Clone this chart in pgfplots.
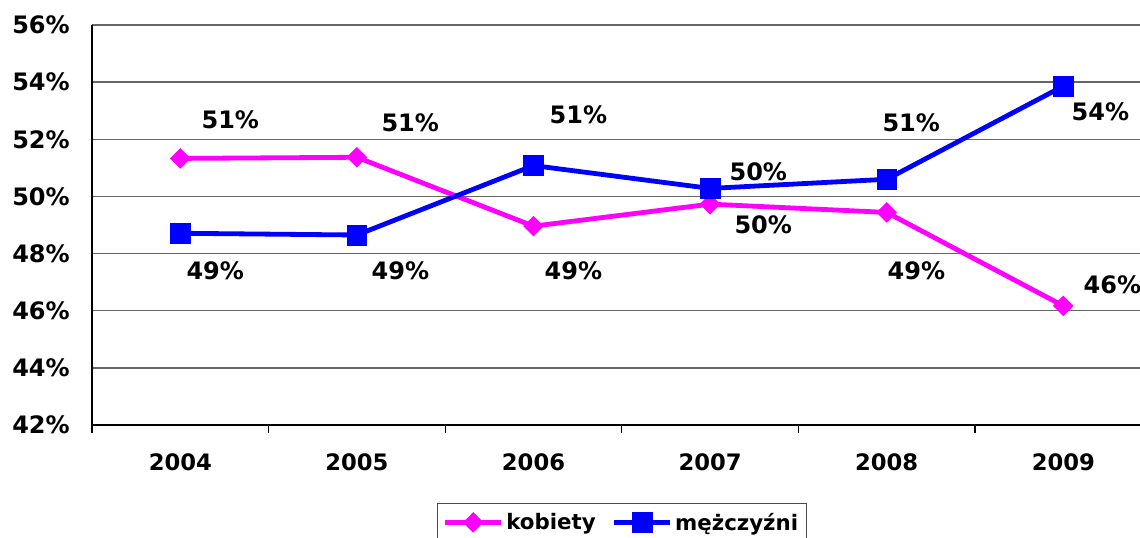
\documentclass[border=0pt]{standalone}
\usepackage{pgfplots}
\pgfplotsset{compat=1.18}
\usepackage{fontspec}
\setmainfont{DejaVu Sans}
\definecolor{kcol}{RGB}{255,0,255}
\definecolor{mcol}{RGB}{0,0,255}
\begin{document}
\begin{tikzpicture}[x=1pt,y=1pt]
\path[use as bounding box] (0,0) rectangle (855,403.5);
\begin{axis}[
  at={(69pt,84.75pt)}, anchor=south west,
  scale only axis, width=794.7pt, height=300pt,
  xmin=-0.5, xmax=5.5, ymin=42, ymax=56,
  axis lines=left,
  axis line style={-, black, line width=0.9pt},
  ytick={42,44,...,56},
  yticklabels={42\%,44\%,46\%,48\%,50\%,52\%,54\%,56\%},
  xtick={0,...,5},
  xticklabels={2004,2005,2006,2007,2008,2009},
  minor xtick={-0.5,0.5,...,5.5},
  major tick length=0pt,
  minor tick length=6pt,
  tick align=outside,
  tick style={black, line width=0.8pt},
  ymajorgrids,
  grid style={black!60, line width=1pt},
  tick label style={font=\bfseries\fontsize{17}{20}\selectfont, inner sep=0pt},
  yticklabel style={anchor=east, xshift=-16.5pt, font=\bfseries\fontsize{18}{20}\selectfont},
  xticklabel style={anchor=north, yshift=-21pt},
  clip=false,
  legend style={at={(0.5,-0.195)}, anchor=north, legend columns=2,
    draw=black!70, line width=0.8pt,
    font=\bfseries\fontsize{16}{18}\selectfont,
    inner xsep=4pt, inner ysep=5pt,
    /tikz/every even column/.append style={column sep=10pt}},
  legend image code/.code={\draw[mark repeat=2,mark phase=2,#1] plot coordinates {(0pt,0pt)(21pt,0pt)(42pt,0pt)};},
]
\addplot[kcol, line width=3.6pt, mark=square*, mark size=5.2pt,
  mark options={solid, rotate=45, line width=0.5pt, fill=kcol}]
  coordinates {(0,51.33) (1,51.37) (2,48.96) (3,49.73) (4,49.44) (5,46.17)};
\addlegendentry{kobiety}
\addplot[mcol, line width=3.6pt, mark=square*, mark size=7.4pt,
  mark options={solid, line width=0.5pt, fill=mcol}]
  coordinates {(0,48.71) (1,48.65) (2,51.08) (3,50.28) (4,50.60) (5,53.86)};
\addlegendentry{mężczyźni}
\tikzset{lbl/.style={font=\bfseries\fontsize{18}{20}\selectfont, inner sep=0pt}}
\node[lbl] at (axis cs:0.283,52.68) {51\%};
\node[lbl] at (axis cs:1.302,52.57) {51\%};
\node[lbl] at (axis cs:2.254,52.85) {51\%};
\node[lbl] at (axis cs:3.273,50.86) {50\%};
\node[lbl] at (axis cs:4.139,52.57) {51\%};
\node[lbl] at (axis cs:5.21,52.96) {54\%};
\node[lbl] at (axis cs:0.198,47.39) {49\%};
\node[lbl] at (axis cs:1.246,47.39) {49\%};
\node[lbl] at (axis cs:2.226,47.39) {49\%};
\node[lbl] at (axis cs:3.301,49.0) {50\%};
\node[lbl] at (axis cs:4.168,47.39) {49\%};
\node[lbl] at (axis cs:5.278,46.9) {46\%};
\end{axis}
\end{tikzpicture}
\end{document}
